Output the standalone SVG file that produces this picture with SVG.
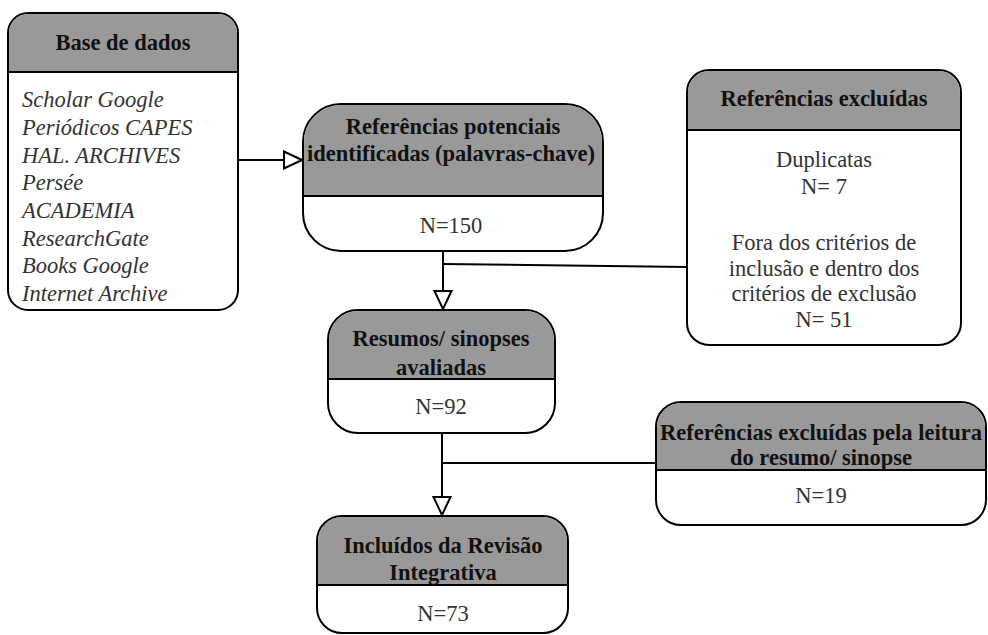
<svg xmlns="http://www.w3.org/2000/svg" width="988" height="635" viewBox="0 0 988 635">
<style>
.box{fill:#fff;stroke:#000;stroke-width:2}
.hdr{fill:#999;stroke:none}
.div{stroke:#000;stroke-width:2}
text{font-family:'Liberation Serif',Tinos,'Times New Roman',Times,serif;font-size:22.5px}
.t{font-weight:bold;fill:#111;text-anchor:middle}
.b{fill:#333;text-anchor:middle}
.i{font-style:italic;fill:#333}
.c{stroke:#000;stroke-width:2;fill:none}
</style>
<defs>
<marker id="tri" markerUnits="userSpaceOnUse" viewBox="0 0 20 20" refX="19" refY="10" markerWidth="20" markerHeight="20" orient="auto">
<path d="M1,1.5 L19,10 L1,18.5 Z" fill="#fff" stroke="#000" stroke-width="2"/>
</marker>
</defs>
<g id="connectors">
<line class="c" x1="238" y1="160" x2="302" y2="160" marker-end="url(#tri)"/>
<line class="c" x1="443" y1="251" x2="443" y2="309" marker-end="url(#tri)"/>
<line class="c" x1="443" y1="264" x2="687" y2="267"/>
<line class="c" x1="442" y1="433" x2="442" y2="515" marker-end="url(#tri)"/>
<line class="c" x1="442" y1="463" x2="656" y2="463"/>
</g>
<g id="base">
<rect class="box" x="8" y="13" width="230" height="297" rx="20"/>
<path class="hdr" d="M9,72 V33 A19,19 0 0 1 28,14 H218 A19,19 0 0 1 237,33 V72 Z"/>
<line class="div" x1="8" y1="72" x2="238" y2="72"/>
<text class="t" x="123" y="50" font-family="Liberation Serif">Base de dados</text>
<text class="i" x="22" y="107">Scholar Google</text>
<text class="i" x="22" y="135">Periódicos CAPES</text>
<text class="i" x="22" y="163">HAL. ARCHIVES</text>
<text class="i" x="22" y="190">Persée</text>
<text class="i" x="22" y="218">ACADEMIA</text>
<text class="i" x="22" y="246">ResearchGate</text>
<text class="i" x="22" y="273">Books Google</text>
<text class="i" x="22" y="301">Internet Archive</text>
</g>
<g id="potenciais">
<rect class="box" x="303" y="104" width="300" height="147" rx="38"/>
<path class="hdr" d="M304,196 V142 A37,37 0 0 1 341,105 H565 A37,37 0 0 1 602,142 V196 Z"/>
<line class="div" x1="303" y1="196" x2="603" y2="196"/>
<text class="t" x="453" y="134">Referências potenciais</text>
<text class="t" x="451" y="161">identificadas (palavras-chave)</text>
<text class="b" x="451" y="233">N=150</text>
</g>
<g id="excluidas">
<rect class="box" x="687" y="70" width="274" height="275" rx="22"/>
<path class="hdr" d="M688,130 V92 A21,21 0 0 1 709,71 H939 A21,21 0 0 1 960,92 V130 Z"/>
<line class="div" x1="687" y1="130" x2="961" y2="130"/>
<text class="t" x="824" y="106">Referências excluídas</text>
<text class="b" x="824" y="167">Duplicatas</text>
<text class="b" x="824" y="194">N= 7</text>
<text class="b" x="824" y="250">Fora dos critérios de</text>
<text class="b" x="824" y="276">inclusão e dentro dos</text>
<text class="b" x="824" y="301">critérios de exclusão</text>
<text class="b" x="824" y="327">N= 51</text>
</g>
<g id="resumos">
<rect class="box" x="328" y="310" width="227" height="123" rx="30"/>
<path class="hdr" d="M329,379 V340 A29,29 0 0 1 358,311 H525 A29,29 0 0 1 554,340 V379 Z"/>
<line class="div" x1="328" y1="379" x2="555" y2="379"/>
<text class="t" x="441" y="346">Resumos/ sinopses</text>
<text class="t" x="441" y="375">avaliadas</text>
<text class="b" x="441" y="414">N=92</text>
</g>
<g id="leitura">
<rect class="box" x="656" y="402" width="330" height="123" rx="25"/>
<path class="hdr" d="M657,470 V427 A24,24 0 0 1 681,403 H961 A24,24 0 0 1 985,427 V470 Z"/>
<line class="div" x1="656" y1="470" x2="986" y2="470"/>
<text class="t" x="821" y="440">Referências excluídas pela leitura</text>
<text class="t" x="821" y="465">do resumo/ sinopse</text>
<text class="b" x="821" y="503">N=19</text>
</g>
<g id="incluidos">
<rect class="box" x="317" y="516" width="251" height="117" rx="25"/>
<path class="hdr" d="M318,585 V541 A24,24 0 0 1 342,517 H543 A24,24 0 0 1 567,541 V585 Z"/>
<line class="div" x1="317" y1="585" x2="568" y2="585"/>
<text class="t" x="443" y="553">Incluídos da Revisão</text>
<text class="t" x="443" y="580">Integrativa</text>
<text class="b" x="443" y="621">N=73</text>
</g>
</svg>
